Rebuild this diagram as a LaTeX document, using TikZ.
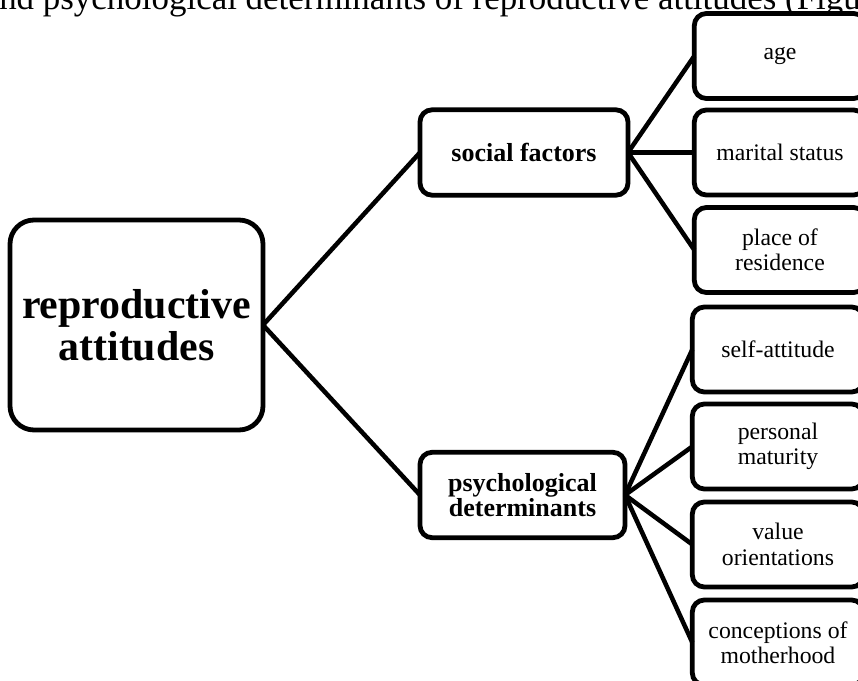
\documentclass[tikz,border=0pt]{standalone}
\usepackage{fontspec}
\setmainfont{Liberation Serif}
\begin{document}
\begin{tikzpicture}[x=0.75pt,y=-0.75pt,
  box/.style={draw=black, line width=3.6pt, rounded corners=9pt, fill=white,
    align=center, inner sep=0pt, outer sep=0pt},
  mainbox/.style={box, rounded corners=18pt, minimum width=189.75pt, minimum height=157.5pt,
    font=\fontsize{31.4}{31.5}\selectfont\bfseries},
  midbox/.style={box, minimum height=64pt,
    font=\fontsize{19.5}{18.5}\selectfont\bfseries},
  leafbox/.style={box, minimum width=128.5pt, minimum height=63.75pt,
    font=\fontsize{17.8}{19}\selectfont},
  conn/.style={draw=black, line width=3.4pt}]
\useasboundingbox (0,0) rectangle (858,681);
\clip (0,0) rectangle (858,681);

\node[anchor=base west, inner sep=0pt, font=\fontsize{26.2}{27}\selectfont] (head) at (-1,10)
  {nd psychological determinants of reproductive attitudes (Figu};

\node[mainbox] (main) at (136.5,325) {reproductive\\attitudes};
\node[midbox, minimum width=156pt] (soc) at (524,152.5) {social factors};
\node[midbox, minimum width=153.75pt] (psy) at (522.5,495) {psychological\\determinants};

\node[leafbox] (age) at (780,56) {age};
\node[leafbox] (mar) at (780,152.5) {marital status};
\node[leafbox] (pla) at (780,250) {place of\\residence};
\node[leafbox] (sel) at (778,349.5) {self-attitude};
\node[leafbox] (per) at (778,446.5) {personal\\maturity};
\node[leafbox] (val) at (778,544.5) {value\\orientations};
\node[leafbox] (con) at (778,642.5) {conceptions of\\motherhood};

\draw[conn] (main.east) -- (soc.west);
\draw[conn] (main.east) -- (psy.west);
\draw[conn] (soc.east) -- (age.west);
\draw[conn] (soc.east) -- (mar.west);
\draw[conn] (soc.east) -- (pla.west);
\draw[conn] (psy.east) -- (sel.west);
\draw[conn] (psy.east) -- (per.west);
\draw[conn] (psy.east) -- (val.west);
\draw[conn] (psy.east) -- (con.west);
\end{tikzpicture}
\end{document}
